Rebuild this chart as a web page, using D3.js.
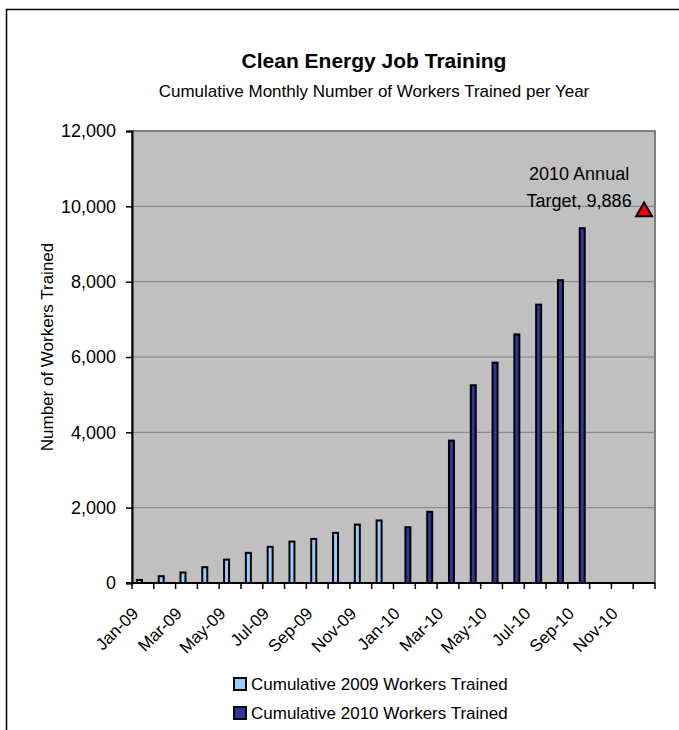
<!DOCTYPE html>
<html>
<head>
<meta charset="utf-8">
<script src="https://cdn.jsdelivr.net/npm/d3@7"></script>
<style>
  body { margin: 0; background: #fff; }
  svg text { font-family: "Liberation Sans", Arial, sans-serif; fill: #000; }
</style>
</head>
<body>
<div id="chart"></div>
<script>
const width = 679;
const height = 730;

// months on the category axis
const months = ["Jan-09", "Feb-09", "Mar-09", "Apr-09", "May-09", "Jun-09", "Jul-09", "Aug-09", "Sep-09", "Oct-09", "Nov-09", "Dec-09",
    "Jan-10", "Feb-10", "Mar-10", "Apr-10", "May-10", "Jun-10", "Jul-10", "Aug-10", "Sep-10", "Oct-10", "Nov-10", "Dec-10"];

// cumulative workers trained
const months2009 = months.slice(0, 12);
const workers2009 = [80, 180, 280, 420, 620, 800, 960, 1100, 1170, 1330, 1550, 1660];
const months2010 = months.slice(12, 21);
const workers2010 = [1480, 1890, 3780, 5250, 5850, 6600, 7390, 8040, 9420];

const targetMonth = "Dec-10";
const targetValue = 9886;
const targetLabel = ["2010 Annual", "Target, 9,886"];

const yTicks = [0, 2000, 4000, 6000, 8000, 10000, 12000];
const seriesNames = ["Cumulative 2009 Workers Trained", "Cumulative 2010 Workers Trained"];
const seriesColors = ["#99ccff", "#333399"];

const margin = {top: 131, right: 24, bottom: 147, left: 132};

const svg = d3.select("#chart")
    .append("svg")
    .attr("width", width)
    .attr("height", height);

// outer chart border (runs off right and bottom edges)
svg.append("rect")
    .attr("x", 6.5)
    .attr("y", 9.5)
    .attr("width", 700)
    .attr("height", 760)
    .attr("fill", "#fff")
    .attr("stroke", "#000")
    .attr("stroke-width", 1.5);

const x0 = d3.scaleBand()
    .domain(months)
    .range([margin.left, width - margin.right]);

const x1 = d3.scaleBand()
    .domain(["2009", "2010"])
    .range([0, x0.bandwidth()])
    .paddingOuter(0.56);

const y = d3.scaleLinear()
    .domain([0, 12000])
    .range([height - margin.bottom, margin.top]);

// plot area
svg.append("rect")
    .attr("x", x0.range()[0])
    .attr("y", y(12000))
    .attr("width", x0.range()[1] - x0.range()[0])
    .attr("height", y(0) - y(12000))
    .attr("fill", "#c0c0c0")
    .attr("stroke", "#808080")
    .attr("stroke-width", 2);

svg.append("g")
    .selectAll("line")
    .data(yTicks.slice(1, -1))
    .join("line")
    .attr("x1", x0.range()[0])
    .attr("x2", x0.range()[1])
    .attr("y1", d => y(d))
    .attr("y2", d => y(d))
    .attr("stroke", "#808080")
    .attr("stroke-width", 1);

// bars
const bars = [
    ...months2009.map((m, i) => ({month: m, series: "2009", value: workers2009[i], color: seriesColors[0]})),
    ...months2010.map((m, i) => ({month: m, series: "2010", value: workers2010[i], color: seriesColors[1]}))
];

svg.append("g")
    .selectAll("rect")
    .data(bars)
    .join("rect")
    .attr("x", d => x0(d.month) + x1(d.series) + 1)
    .attr("y", d => y(d.value))
    .attr("width", x1.bandwidth() - 2)
    .attr("height", d => y(0) - y(d.value))
    .attr("fill", d => d.color)
    .attr("stroke", "#000")
    .attr("stroke-width", 2);

// y axis
const yAxis = svg.append("g")
    .attr("transform", `translate(${x0.range()[0]},0)`)
    .call(d3.axisLeft(y).tickValues(yTicks).tickSize(6).tickPadding(10).tickFormat(d3.format(",")));
yAxis.select(".domain").attr("stroke", "#000").attr("stroke-width", 2);
yAxis.selectAll(".tick line").attr("stroke", "#000").attr("stroke-width", 1.5);
yAxis.selectAll(".tick text")
    .attr("font-size", 18)
    .style("font-family", "'Liberation Sans', Arial, sans-serif");

// x axis: tick marks between months, labels on every other month
const xTicks = months.map(m => x0(m)).concat([x0.range()[1]]);
const xAxis = svg.append("g");
xAxis.append("line")
    .attr("x1", x0.range()[0] - 6)
    .attr("x2", x0.range()[1])
    .attr("y1", y(0))
    .attr("y2", y(0))
    .attr("stroke", "#000")
    .attr("stroke-width", 2);
xAxis.selectAll(".xt")
    .data(xTicks)
    .join("line")
    .attr("class", "xt")
    .attr("x1", d => d)
    .attr("x2", d => d)
    .attr("y1", y(0))
    .attr("y2", y(0) + 6)
    .attr("stroke", "#000")
    .attr("stroke-width", 1.5);
xAxis.selectAll("text")
    .data(months.filter((m, i) => i % 2 === 0))
    .join("text")
    .attr("transform", d => `translate(${x0(d) + x0.bandwidth() / 2 - 12},${y(0) + 23}) rotate(-45)`)
    .attr("text-anchor", "end")
    .attr("dy", "0.71em")
    .attr("font-size", 17)
    .text(d => d);

// y axis title
svg.append("text")
    .attr("transform", `translate(53,${(y(0) + y(12000)) / 2 - 10}) rotate(-90)`)
    .attr("text-anchor", "middle")
    .attr("font-size", 17)
    .text("Number of Workers Trained");

// titles
svg.append("text")
    .attr("x", 374)
    .attr("y", 68)
    .attr("text-anchor", "middle")
    .attr("font-size", 21)
    .attr("font-weight", "bold")
    .text("Clean Energy Job Training");

svg.append("text")
    .attr("x", 374)
    .attr("y", 97)
    .attr("text-anchor", "middle")
    .attr("font-size", 17)
    .text("Cumulative Monthly Number of Workers Trained per Year");

// annual target marker
const tx = x0(targetMonth) + x0.bandwidth() / 2;
const ty = y(targetValue);
svg.append("path")
    .attr("d", d3.symbol().type(d3.symbolTriangle).size(110)())
    .attr("transform", `translate(${tx},${ty + 1})`)
    .attr("fill", "#ff0000")
    .attr("stroke", "#000")
    .attr("stroke-width", 2);

svg.append("g")
    .selectAll("text")
    .data(targetLabel)
    .join("text")
    .attr("x", tx - 65)
    .attr("y", (d, i) => ty - 31 + i * 27)
    .attr("text-anchor", "middle")
    .attr("font-size", 18)
    .text(d => d);

// legend
const legend = svg.append("g")
    .selectAll("g")
    .data(seriesNames)
    .join("g")
    .attr("transform", (d, i) => `translate(234,${678 + i * 29})`);
legend.append("rect")
    .attr("width", 12)
    .attr("height", 12)
    .attr("fill", (d, i) => seriesColors[i])
    .attr("stroke", "#000")
    .attr("stroke-width", 2);
legend.append("text")
    .attr("x", 17)
    .attr("y", 12)
    .attr("font-size", 17)
    .text(d => d);
</script>
</body>
</html>
